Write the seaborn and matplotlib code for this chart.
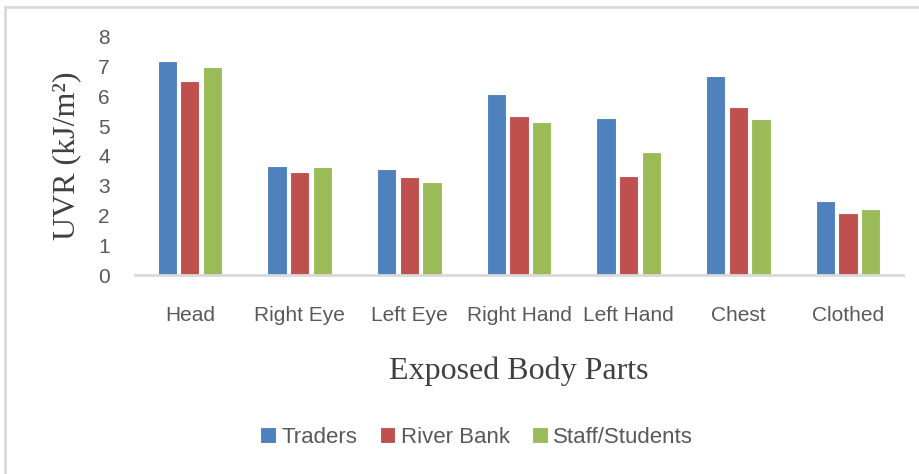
import pandas as pd
import matplotlib.pyplot as plt
import seaborn as sns
from matplotlib.patches import Rectangle

# values
parts = ["Head", "Right Eye", "Left Eye", "Right Hand", "Left Hand", "Chest", "Clothed"]
traders = [7.19, 3.67, 3.55, 6.06, 5.28, 6.68, 2.47]
river_bank = [6.52, 3.47, 3.29, 5.34, 3.31, 5.63, 2.08]
staff_students = [6.99, 3.62, 3.13, 5.12, 4.14, 5.23, 2.20]
groups = ["Traders", "River Bank", "Staff/Students"]
colors = ["#4F81BD", "#C0504D", "#9BBB59"]

df = pd.DataFrame({"part": parts * 3,
                   "group": [g for g in groups for _ in parts],
                   "uvr": traders + river_bank + staff_students})

sns.set_style("white")
plt.rcParams["font.family"] = ["Liberation Sans", "DejaVu Sans"]

fig = plt.figure(figsize=(9.2, 4.74), dpi=100)
ax = fig.add_axes([0.1467, 0.4198, 0.8348, 0.5028])

sns.barplot(data=df, x="part", y="uvr", hue="group", order=parts, hue_order=groups,
            palette=colors, saturation=1, width=0.62, gap=0.15, errorbar=None, ax=ax,
            edgecolor="white", linewidth=0.8)

ax.set_ylim(0, 8)
ax.set_xlim(-0.5, len(parts) - 0.5)
ax.set_yticks(range(0, 9))
for s in ["top", "right", "left"]:
    ax.spines[s].set_visible(False)
ax.spines["bottom"].set_color("#D9D9D9")
ax.spines["bottom"].set_linewidth(2)
ax.tick_params(axis="y", length=0, pad=18, labelsize=15, labelcolor="#595959")
ax.tick_params(axis="x", length=0, pad=22, labelsize=15, labelcolor="#595959")

ax.set_ylabel("UVR (kJ/m²)", family="Liberation Serif", fontsize=23,
              color="#404040", labelpad=12)
ax.set_xlabel("Exposed Body Parts", family="Liberation Serif", fontsize=23,
              color="#404040", labelpad=23)

ax.legend(loc="center", bbox_to_anchor=(0.445, -0.68), ncol=3, frameon=False,
          fontsize=16, handlelength=0.7, handleheight=0.7, columnspacing=1.0,
          handletextpad=0.25, labelcolor="#595959")

fig.patches.append(Rectangle((5 / 920, -0.05), 1.0, 1 - 7 / 474 + 0.05,
                             transform=fig.transFigure, fill=False,
                             edgecolor="#D9D9D9", linewidth=2))

fig.savefig("out.png", dpi=100)
